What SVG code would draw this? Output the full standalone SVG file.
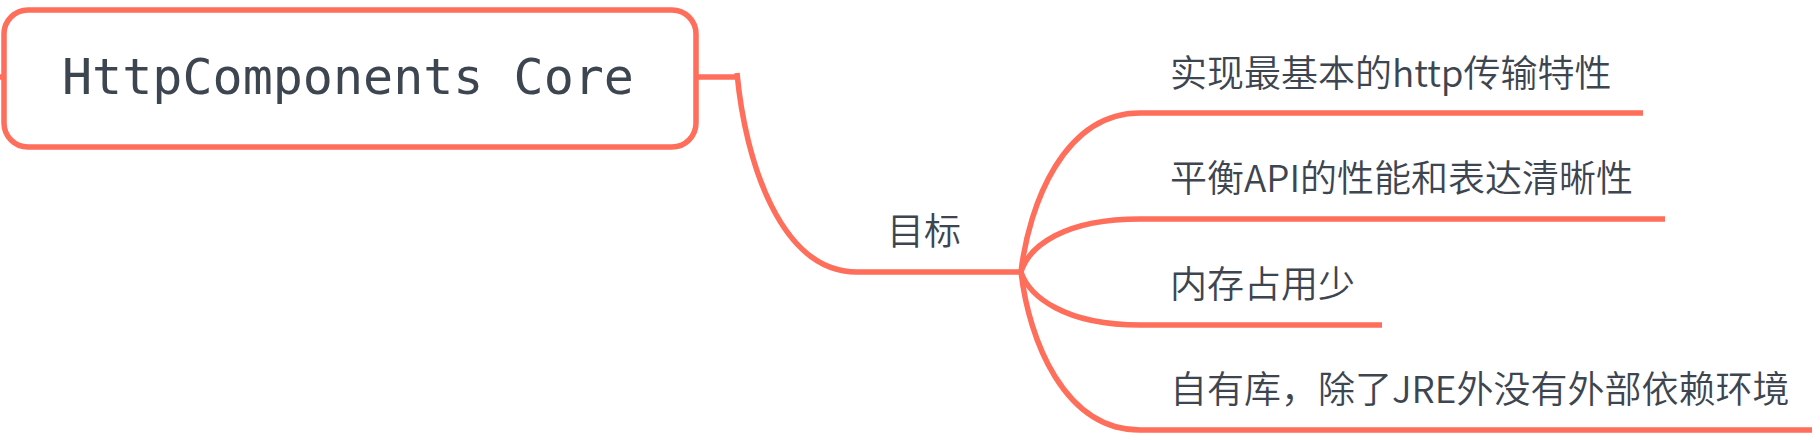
<svg xmlns="http://www.w3.org/2000/svg" width="1820" height="440" viewBox="0 0 1820 440">
<style>
.ln{fill:none;stroke:#FF6E5B;stroke-width:5.5;stroke-linecap:butt;stroke-linejoin:round}
.t{font-family:"Noto Sans CJK SC","Noto Sans",sans-serif;font-size:37px;font-weight:350;fill:#3D4650}
.root{font-family:"DejaVu Sans Mono","Liberation Mono",monospace;font-size:50px;fill:#3D4650}
</style>
<rect width="1820" height="440" fill="#FFFFFF"/>
<g id="connectors">
<path class="ln" d="M0,77 H4"/>
<path class="ln" d="M696,77 H737"/>
<path class="ln" d="M737,73 C745,160 780,272 857,272 H1021"/>
<path class="ln" d="M1021,272 C1029,204 1064,113 1140,113 H1643"/>
<path class="ln" d="M1021,272 C1029,246 1064,219 1140,219 H1665"/>
<path class="ln" d="M1021,272 C1029,296 1064,325 1140,325 H1382"/>
<path class="ln" d="M1021,272 C1029,340 1064,430 1140,430 H1812"/>
</g>
<g id="root">
<rect class="ln" x="4" y="10" width="692" height="137" rx="24" ry="24" fill="#FFFFFF"/>
<text class="root" x="348" y="94" text-anchor="middle">HttpComponents Core</text>
</g>
<g id="goal">
<text class="t" x="887" y="245">目标</text>
</g>
<g id="n1">
<text class="t" x="1170" y="87">实现最基本的http传输特性</text>
</g>
<g id="n2">
<text class="t" x="1170" y="192">平衡API的性能和表达清晰性</text>
</g>
<g id="n3">
<text class="t" x="1170" y="298">内存占用少</text>
</g>
<g id="n4">
<text class="t" x="1170" y="403">自有库，除了JRE外没有外部依赖环境</text>
</g>
</svg>
